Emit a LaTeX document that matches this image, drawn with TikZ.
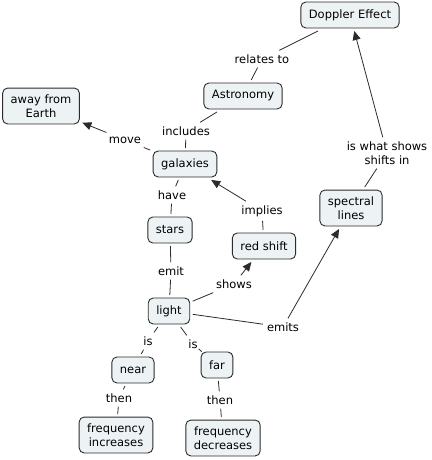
\documentclass[tikz,border=0pt]{standalone}
\usepackage{fontspec}
\setmainfont{DejaVu Sans}
\usetikzlibrary{arrows.meta}
\definecolor{cmapfill}{HTML}{EDF3F5}
\definecolor{cmapline}{HTML}{2B2B2B}
\tikzset{
	concept/.style={draw=cmapline, fill=cmapfill, line width=0.9pt, rounded corners=5pt,
		align=center, font=\fontsize{11.5}{14}\selectfont, minimum height=26pt,
		inner xsep=8pt, inner ysep=6.5pt, outer sep=3pt},
	linkword/.style={align=center, font=\fontsize{11.5}{14}\selectfont, inner sep=4pt},
	conn/.style={draw=cmapline, line width=0.8pt},
	arr/.style={conn, -{Triangle[length=9pt,width=8pt]}}
}
\begin{document}
\begin{tikzpicture}[x=1pt,y=-1pt]
		\useasboundingbox (0,0) rectangle (431,460);
		% concepts
		\foreach \n/\x/\y/\t in {%
			dop/350/15/{Doppler Effect}, astro/243/96/{Astronomy},%
			away/41/106/{away from\\Earth}, galax/185/164/{galaxies},%
			stars/170/230/{stars}, red/264/246/{red shift}, spec/351/208/{spectral\\lines},%
			light/169/311/{light}, near/133/370/{near}, far/217/365/{far},%
			finc/116/435/{frequency\\increases}, fdec/223/438/{frequency\\decreases}%
		}{
			\node[concept] (\n) at (\x,\y) {\t};
		}
		% linking words
		\foreach \n/\x/\y/\t in {%
			lrel/262/59/{relates to}, lincl/186/131/{includes}, lmove/125/140/{move},%
			lhave/172/195/{have}, limpl/262/211/{implies}, lwhat/387/153/{is what shows\\shifts in},%
			lemit/171/271/{emit}, lshow/234/284/{shows}, lemits/283/327/{emits},%
			lisl/148/341/{is}, lisr/193/344/{is}, lthenl/119/398/{then}, lthenr/220/400/{then}%
		}{
			\node[linkword] (\n) at (\x,\y) {\t};
		}
		% plain links
		\foreach \a/\b in {%
			dop/lrel, lrel/astro, astro/lincl, lincl/galax, galax/lmove, galax/lhave,%
			lhave/stars, red/limpl, stars/lemit, lemit/light, light/lshow, light/lemits,%
			spec/lwhat, light/lisl, lisl/near, light/lisr, lisr/far, near/lthenl,%
			lthenl/finc, far/lthenr, lthenr/fdec%
		}{
			\draw[conn] (\a) -- (\b);
		}
		% arrows
		\foreach \a/\b in {lmove/away, limpl/galax, lshow/red, lemits/spec, lwhat/dop}{
			\draw[arr] (\a) -- (\b);
		}
	\end{tikzpicture}
\end{document}
